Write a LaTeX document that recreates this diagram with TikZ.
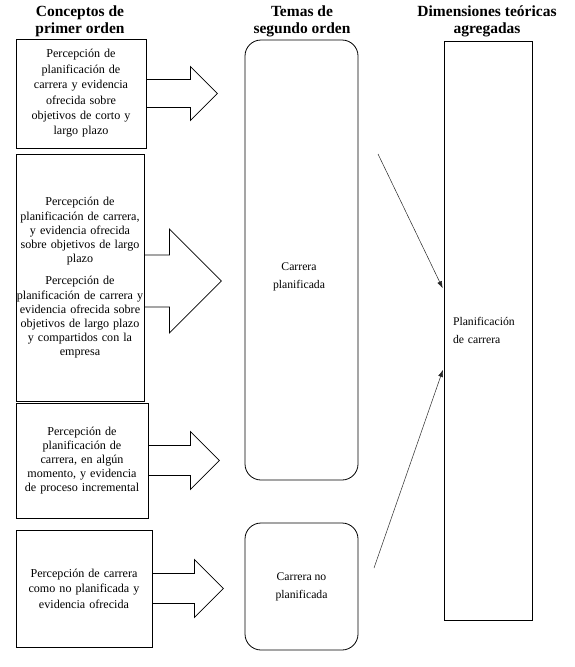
\documentclass[tikz,border=0pt]{standalone}
\usepackage{fontspec}
\setmainfont{Liberation Serif}
\usetikzlibrary{arrows.meta}

\tikzstyle{heading}=[align=center, inner sep=0pt, font=\bfseries\fontsize{15.5}{17}\selectfont]
\tikzstyle{concept}=[rectangle, draw, line width=0.9pt, align=center, inner sep=0pt, font=\fontsize{12.1}{15.4}\selectfont]
\tikzstyle{theme}=[rectangle, draw, rounded corners=16pt, line width=0.8pt, minimum width=113pt, align=center, inner sep=0pt, font=\fontsize{11.7}{18}\selectfont]
\tikzstyle{dimension}=[rectangle, draw, line width=0.9pt, align=left, inner xsep=9pt, text width=70pt, font=\fontsize{11.7}{18}\selectfont]
\tikzstyle{fatarrow}=[draw, line width=0.7pt, line join=miter]
\tikzstyle{pointto}=[-{Latex[length=7pt,width=5pt]}, line width=0.5pt, black!85, shorten >=2pt]

\begin{document}
\begin{tikzpicture}[x=1pt, y=-1pt]
\useasboundingbox (0,0) rectangle (575,667);

% column headings
\node[heading] (H1) at (80,21)  {Conceptos de\\primer orden};
\node[heading] (H2) at (302,21) {Temas de\\segundo orden};
\node[heading] (H3) at (487,21) {Dimensiones teóricas\\agregadas};

% first order concepts
\node[concept, minimum width=130pt, minimum height=109pt, text width=130pt] (C1) at (81,93.5)
  {Percepción de\\planificación de\\carrera y evidencia\\ofrecida sobre\\objetivos de corto y\\largo plazo};
\node[concept, minimum width=128pt, minimum height=247pt, text width=136pt, inner xsep=-4pt,
      font=\fontsize{12.1}{14.2}\selectfont] (C2) at (80,278)
  {Percepción de\\planificación de carrera,\\y evidencia ofrecida\\sobre objetivos de largo\\plazo\\[8pt]
   Percepción de\\planificación de carrera y\\evidencia ofrecida sobre\\objetivos de largo plazo\\y compartidos con la\\empresa};
\node[concept, minimum width=132pt, minimum height=115pt, text width=132pt,
      font=\fontsize{12.1}{14.2}\selectfont] (C3) at (82,460.5)
  {Percepción de\\planificación de\\carrera, en algún\\momento, y evidencia\\de proceso incremental};
\node[concept, minimum width=136pt, minimum height=117pt, text width=136pt] (C4) at (84,588.5)
  {Percepción de carrera\\como no planificada y\\evidencia ofrecida};

% second order themes
\node[theme, minimum height=440pt] (T1) at (301.5,260) {};
\node[font=\fontsize{11.7}{18}\selectfont, align=center] (T1text) at (299,277) {Carrera\\planificada};
\node[theme, minimum height=127pt] (T2) at (301.5,586.5) {Carrera no\\planificada};

% aggregate dimension
\node[dimension, minimum height=579pt] (D) at (488,330.5) {Planificación\\de carrera};

% block arrows
\draw[fatarrow] (C1.east) ++(0,-14) -- ++(44,0) -- ++(0,-13) -- ++(27,27) -- ++(-27,27) -- ++(0,-13) -- ++(-44,0);
\draw[fatarrow] (C2.east) ++(0,-23) -- ++(25,0) -- ++(0,-26) -- ++(52,52) -- ++(-52,52) -- ++(0,-26) -- ++(-25,0);
\draw[fatarrow] (C3.east) ++(0,-15) -- ++(42,0) -- ++(0,-14) -- ++(29,29) -- ++(-29,29) -- ++(0,-14) -- ++(-42,0);
\draw[fatarrow] (C4.east) ++(0,-15) -- ++(42,0) -- ++(0,-14) -- ++(29,29) -- ++(-29,29) -- ++(0,-14) -- ++(-42,0);

% thin arrows
\coordinate (s1) at (378,154);
\coordinate (s2) at (374,568);
\draw[pointto] (s1) -- ([yshift=40.5pt]D.west);
\draw[pointto] (s2) -- ([yshift=-37.5pt]D.west);
\end{tikzpicture}
\end{document}
